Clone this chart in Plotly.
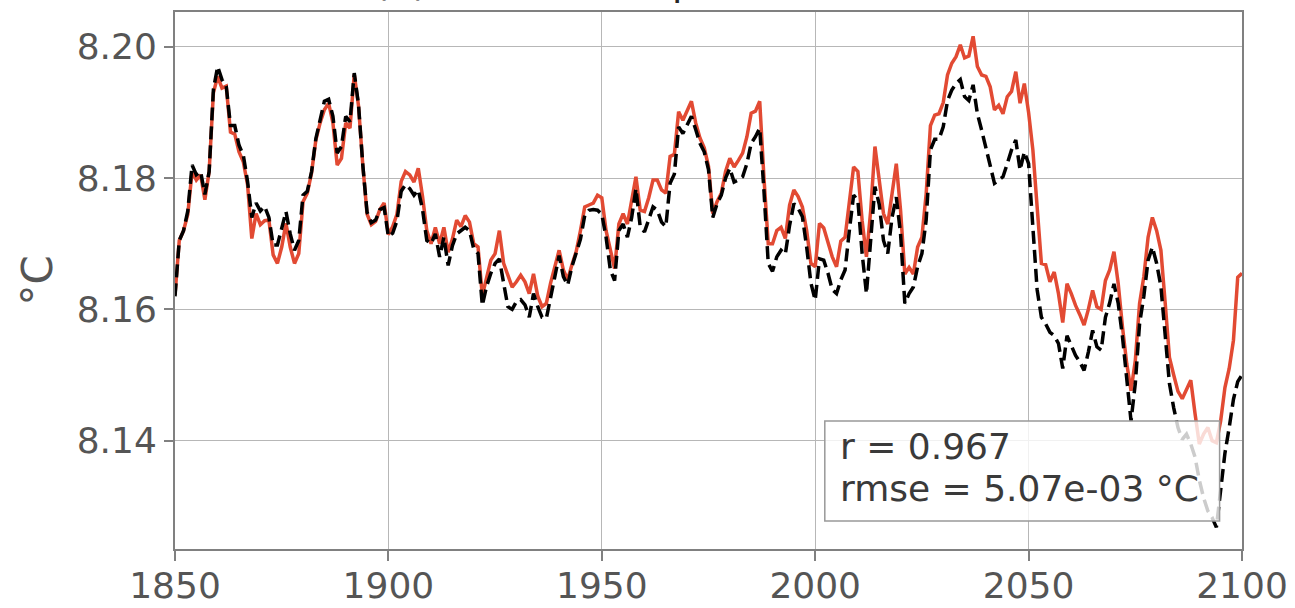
import plotly.graph_objects as go

years = list(range(1850, 2101))

model_temp = [
    8.1622, 8.1705, 8.1720, 8.1745, 8.1810, 8.1797, 8.1805, 8.1767, 8.1810, 8.1930,  # 1850s
    8.1955, 8.1937, 8.1940, 8.1870, 8.1867, 8.1840, 8.1825, 8.1790, 8.1708, 8.1746,  # 1860s
    8.1729, 8.1735, 8.1736, 8.1683, 8.1670, 8.1695, 8.1731, 8.1695, 8.1670, 8.1685,  # 1870s
    8.1764, 8.1777, 8.1808, 8.1858, 8.1884, 8.1904, 8.1914, 8.1884, 8.1820, 8.1830,  # 1880s
    8.1884, 8.1876, 8.1958, 8.1910, 8.1820, 8.1745, 8.1729, 8.1734, 8.1752, 8.1762,  # 1890s
    8.1714, 8.1726, 8.1745, 8.1795, 8.1810, 8.1805, 8.1794, 8.1815, 8.1772, 8.1720,  # 1900s
    8.1700, 8.1725, 8.1700, 8.1725, 8.1687, 8.1707, 8.1736, 8.1726, 8.1743, 8.1733,  # 1910s
    8.1700, 8.1695, 8.1621, 8.1650, 8.1675, 8.1685, 8.1720, 8.1670, 8.1650, 8.1634,  # 1920s
    8.1642, 8.1652, 8.1642, 8.1624, 8.1654, 8.1620, 8.1604, 8.1609, 8.1640, 8.1665,  # 1930s
    8.1690, 8.1660, 8.1645, 8.1668, 8.1688, 8.1720, 8.1756, 8.1759, 8.1762, 8.1774,  # 1940s
    8.1770, 8.1720, 8.1690, 8.1662, 8.1730, 8.1746, 8.1730, 8.1766, 8.1802, 8.1751,  # 1950s
    8.1749, 8.1770, 8.1797, 8.1797, 8.1782, 8.1777, 8.1833, 8.1836, 8.1901, 8.1888,  # 1960s
    8.1903, 8.1917, 8.1884, 8.1861, 8.1846, 8.1818, 8.1746, 8.1764, 8.1777, 8.1810,  # 1970s
    8.1830, 8.1817, 8.1827, 8.1838, 8.1863, 8.1899, 8.1902, 8.1917, 8.1800, 8.1700,  # 1980s
    8.1700, 8.1720, 8.1725, 8.1708, 8.1759, 8.1782, 8.1772, 8.1756, 8.1720, 8.1670,  # 1990s
    8.1665, 8.1731, 8.1724, 8.1700, 8.1680, 8.1665, 8.1704, 8.1710, 8.1760, 8.1817,  # 2000s
    8.1810, 8.1735, 8.1680, 8.1750, 8.1848, 8.1800, 8.1746, 8.1730, 8.1776, 8.1822,  # 2010s
    8.1751, 8.1654, 8.1664, 8.1654, 8.1695, 8.1710, 8.1776, 8.1880, 8.1896, 8.1898,  # 2020s
    8.1915, 8.1957, 8.1975, 8.1985, 8.2003, 8.1983, 8.1986, 8.2016, 8.1970, 8.1957,  # 2030s
    8.1955, 8.1939, 8.1904, 8.1911, 8.1898, 8.1924, 8.1932, 8.1962, 8.1914, 8.1944,  # 2040s
    8.1900, 8.1843, 8.1756, 8.1670, 8.1668, 8.1642, 8.1657, 8.1624, 8.1580, 8.1639,  # 2050s
    8.1624, 8.1606, 8.1592, 8.1576, 8.1600, 8.1629, 8.1604, 8.1600, 8.1644, 8.1660,  # 2060s
    8.1688, 8.1639, 8.1573, 8.1517, 8.1476, 8.1522, 8.1609, 8.1650, 8.1710, 8.1740,  # 2070s
    8.1720, 8.1690, 8.1610, 8.1527, 8.1500, 8.1475, 8.1464, 8.1477, 8.1492, 8.1441,  # 2080s
    8.1395, 8.1410, 8.1420, 8.1400, 8.1397, 8.1430, 8.1481, 8.1510, 8.1553, 8.1649,  # 2090s
    8.1655,                                                                          # 2100
]

emulated_temp = [
    8.1620, 8.1705, 8.1720, 8.1750, 8.1820, 8.1805, 8.1810, 8.1775, 8.1810, 8.1935,  # 1850s
    8.1970, 8.1950, 8.1940, 8.1880, 8.1880, 8.1850, 8.1835, 8.1795, 8.1740, 8.1762,  # 1860s
    8.1750, 8.1757, 8.1740, 8.1698, 8.1698, 8.1726, 8.1749, 8.1715, 8.1690, 8.1705,  # 1870s
    8.1774, 8.1780, 8.1810, 8.1860, 8.1890, 8.1917, 8.1920, 8.1894, 8.1838, 8.1848,  # 1880s
    8.1894, 8.1886, 8.1960, 8.1912, 8.1820, 8.1748, 8.1732, 8.1736, 8.1752, 8.1755,  # 1890s
    8.1711, 8.1716, 8.1735, 8.1780, 8.1790, 8.1784, 8.1774, 8.1782, 8.1752, 8.1705,  # 1900s
    8.1700, 8.1715, 8.1680, 8.1710, 8.1667, 8.1697, 8.1715, 8.1720, 8.1725, 8.1720,  # 1910s
    8.1692, 8.1685, 8.1606, 8.1635, 8.1655, 8.1670, 8.1677, 8.1640, 8.1604, 8.1600,  # 1920s
    8.1612, 8.1615, 8.1607, 8.1588, 8.1624, 8.1604, 8.1588, 8.1586, 8.1620, 8.1650,  # 1930s
    8.1682, 8.1650, 8.1637, 8.1665, 8.1685, 8.1707, 8.1743, 8.1751, 8.1752, 8.1751,  # 1940s
    8.1745, 8.1710, 8.1660, 8.1644, 8.1720, 8.1730, 8.1710, 8.1740, 8.1784, 8.1726,  # 1950s
    8.1718, 8.1736, 8.1756, 8.1751, 8.1733, 8.1726, 8.1792, 8.1806, 8.1878, 8.1868,  # 1960s
    8.1880, 8.1894, 8.1874, 8.1853, 8.1840, 8.1813, 8.1740, 8.1761, 8.1774, 8.1800,  # 1970s
    8.1815, 8.1794, 8.1797, 8.1802, 8.1822, 8.1853, 8.1863, 8.1876, 8.1780, 8.1670,  # 1980s
    8.1658, 8.1680, 8.1690, 8.1684, 8.1728, 8.1761, 8.1754, 8.1741, 8.1695, 8.1640,  # 1990s
    8.1614, 8.1677, 8.1675, 8.1655, 8.1630, 8.1624, 8.1645, 8.1660, 8.1720, 8.1774,  # 2000s
    8.1766, 8.1685, 8.1624, 8.1700, 8.1787, 8.1760, 8.1705, 8.1685, 8.1740, 8.1771,  # 2010s
    8.1715, 8.1609, 8.1624, 8.1634, 8.1665, 8.1685, 8.1736, 8.1843, 8.1859, 8.1859,  # 2020s
    8.1878, 8.1918, 8.1934, 8.1944, 8.1950, 8.1924, 8.1918, 8.1942, 8.1898, 8.1873,  # 2030s
    8.1847, 8.1822, 8.1792, 8.1797, 8.1802, 8.1822, 8.1843, 8.1858, 8.1812, 8.1840,  # 2040s
    8.1822, 8.1725, 8.1630, 8.1588, 8.1578, 8.1565, 8.1560, 8.1548, 8.1510, 8.1560,  # 2050s
    8.1545, 8.1530, 8.1520, 8.1507, 8.1535, 8.1568, 8.1543, 8.1538, 8.1588, 8.1610,  # 2060s
    8.1639, 8.1609, 8.1558, 8.1497, 8.1430, 8.1487, 8.1578, 8.1620, 8.1675, 8.1695,  # 2070s
    8.1670, 8.1635, 8.1560, 8.1487, 8.1450, 8.1420, 8.1402, 8.1410, 8.1395, 8.1375,  # 2080s
    8.1340, 8.1313, 8.1293, 8.1283, 8.1268, 8.1330, 8.1381, 8.1420, 8.1463, 8.1490,  # 2090s
    8.1500,                                                                          # 2100
]

x_ticks = [1850, 1900, 1950, 2000, 2050, 2100]
y_ticks = [8.14, 8.16, 8.18, 8.20]
y_tick_labels = ["8.14", "8.16", "8.18", "8.20"]

stats_lines = ["r = 0.967", "rmse = 5.07e-03 °C"]
title_text = "(b) Surface temperature"
y_label = "°C"

RED = "#E24A33"
AXIS_GRAY = "#808080"
GRID_GRAY = "#b7b7b7"
TEXT_GRAY = "#555555"
FONT = "DejaVu Sans"

fig = go.Figure()
fig.add_trace(go.Scatter(x=years, y=model_temp, mode="lines",
                         line=dict(color=RED, width=3.5), showlegend=False))
fig.add_trace(go.Scatter(x=years, y=emulated_temp, mode="lines",
                         line=dict(color="black", width=3.5, dash="13px,6px"),
                         showlegend=False))

# stats box (semi-transparent white, gray border) drawn over the lines
fig.add_shape(type="rect", xref="paper", yref="paper",
              x0=0.609, x1=0.979, y0=0.0521, y1=0.2383,
              fillcolor="rgba(255,255,255,0.8)",
              line=dict(color="#999999", width=1.5), layer="above")
fig.add_annotation(text=stats_lines[0], xref="paper", yref="paper",
                   x=0.6214, y=0.1904, xanchor="left", yanchor="middle",
                   showarrow=False, font=dict(family=FONT, size=36, color="#3a3a3a"))
fig.add_annotation(text=stats_lines[1], xref="paper", yref="paper",
                   x=0.6214, y=0.1125, xanchor="left", yanchor="middle",
                   showarrow=False, font=dict(family=FONT, size=36, color="#3a3a3a"))

# title (mostly cut off above the canvas, as in the reference)
fig.add_annotation(text=title_text, xref="paper", yref="paper",
                   x=(372 - 175) / 1067, y=1.0, xanchor="left", yanchor="bottom",
                   yshift=6, showarrow=False,
                   font=dict(family=FONT, size=38, color="#262626"))

# y axis label
fig.add_annotation(text=y_label, xref="paper", yref="paper",
                   x=(37 - 175) / 1067, y=0.5, xanchor="center", yanchor="middle",
                   textangle=-90, showarrow=False,
                   font=dict(family=FONT, size=42, color=TEXT_GRAY))

fig.update_xaxes(range=[1850, 2100], tickvals=x_ticks, automargin=False,
                 showgrid=True, gridcolor=GRID_GRAY, gridwidth=1,
                 showline=True, linecolor=AXIS_GRAY, linewidth=2, mirror=True,
                 ticks="outside", ticklen=10, tickwidth=1.5, tickcolor=AXIS_GRAY,
                 ticklabelstandoff=-6,
                 tickfont=dict(family=FONT, size=36, color=TEXT_GRAY),
                 zeroline=False)
fig.update_yaxes(range=[8.1235, 8.2053], tickvals=y_ticks, ticktext=y_tick_labels,
                 automargin=False,
                 showgrid=True, gridcolor=GRID_GRAY, gridwidth=1,
                 showline=True, linecolor=AXIS_GRAY, linewidth=2, mirror=True,
                 ticks="outside", ticklen=9, tickwidth=1.5, tickcolor=AXIS_GRAY,
                 tickfont=dict(family=FONT, size=36, color=TEXT_GRAY),
                 zeroline=False)

fig.update_layout(width=1295, height=608,
                  margin=dict(l=175, r=53, t=12, b=59, autoexpand=False),
                  plot_bgcolor="white", paper_bgcolor="white",
                  font=dict(family=FONT))

fig.write_html("out.html",
               config={"displayModeBar": False},
               post_script="document.body.style.margin='0px';"
                           "document.body.style.overflow='hidden';")
